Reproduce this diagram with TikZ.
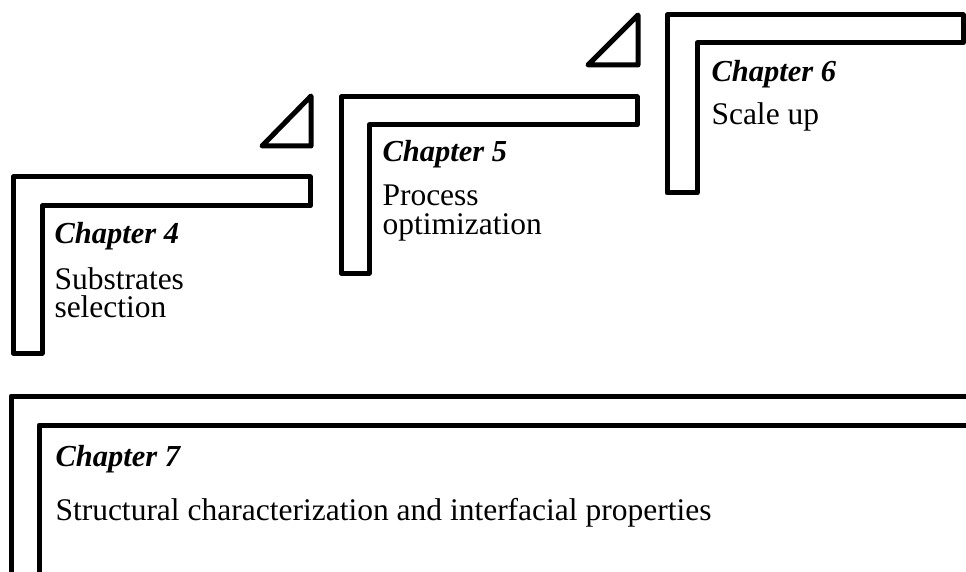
\documentclass[tikz,border=0pt]{standalone}
\usepackage{fontspec}
\setmainfont{Liberation Serif}
\usepackage{tikz}
\usetikzlibrary{positioning}

\begin{document}
\begin{tikzpicture}[x=1pt, y=-1pt, line width=5pt, line join=round,
        stepframe/.style={draw=black},
        chaptitle/.style={anchor=base west, inner sep=0pt, text height=21pt, text depth=6pt, font=\fontsize{30.5}{28}\selectfont\bfseries\itshape},
        chaptext/.style={anchor=base west, inner sep=0pt, text height=21pt, text depth=6pt, font=\fontsize{31.5}{28}\selectfont}] % 1pt = 1px of the reference
        % Fix the page size
        \useasboundingbox (0,0) rectangle (966,572);
        \clip (0,0) rectangle (966,572);

        % Draw the steps (L shaped frames)
        \draw[stepframe] (13,177) -- (310,177) -- (310,206) -- (42,206) -- (42,353) -- (13,353) -- cycle;
        \draw[stepframe] (341,97) -- (637,97) -- (637,125) -- (369,125) -- (369,273) -- (341,273) -- cycle;
        \draw[stepframe] (667,15) -- (963,15) -- (963,43) -- (697,43) -- (697,193) -- (667,193) -- cycle;

        % Draw the small triangles between the steps
        \draw[stepframe] (311,96) -- (311,146) -- (262,146) -- cycle;
        \draw[stepframe] (638,15) -- (638,65) -- (588,65) -- cycle;

        % Draw the big open frame at the bottom
        \draw[stepframe] (980,396) -- (11,396) -- (11,590);
        \draw[stepframe] (980,425) -- (39,425) -- (39,590);

        % Chapter 4
        \node[chaptitle] (Chap4Title) at (52,243) {Chapter 4};
        \node[chaptext] (Chap4LineA) at (52,289) {Substrates};
        \node[chaptext] (Chap4LineB) at (52,317) {selection};

        % Chapter 5
        \node[chaptitle] (Chap5Title) at (380,162) {Chapter 5};
        \node[chaptext] (Chap5LineA) at (380,206) {Process};
        \node[chaptext] (Chap5LineB) at (380,234) {optimization};

        % Chapter 6
        \node[chaptitle] (Chap6Title) at (709,82) {Chapter 6};
        \node[chaptext] (Chap6LineA) at (709,125) {Scale up};

        % Chapter 7
        \node[chaptitle] (Chap7Title) at (53,466) {Chapter 7};
        \node[chaptext] (Chap7LineA) at (53,520) {Structural characterization and interfacial properties};
    \end{tikzpicture}
\end{document}
